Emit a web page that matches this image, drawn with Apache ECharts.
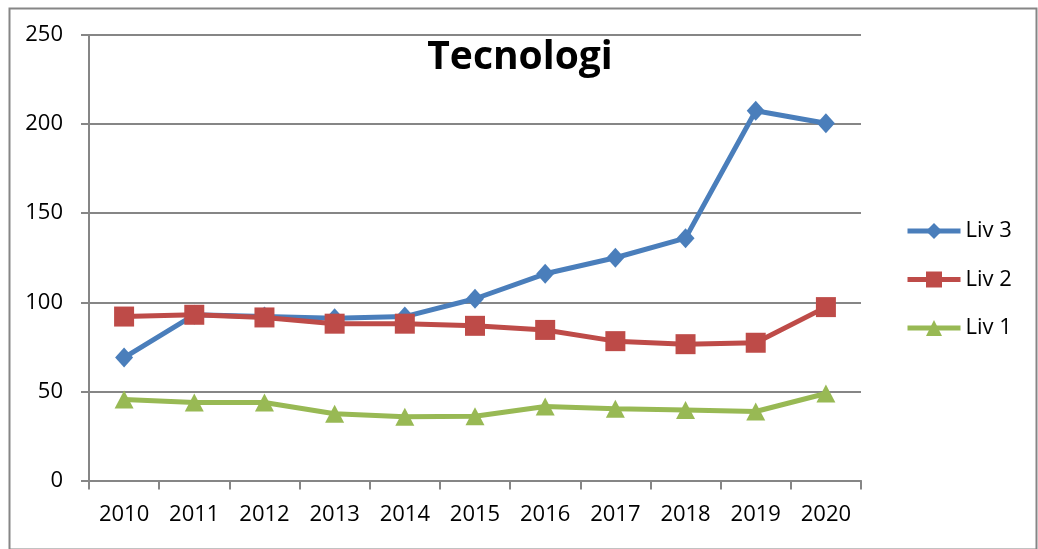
<!DOCTYPE html>
<html>
<head>
<meta charset="utf-8">
<script src="https://cdn.jsdelivr.net/npm/echarts@6/dist/echarts.min.js"></script>
<style>
html,body{margin:0;padding:0;background:#fff;}
#chart{width:1038px;height:549px;}
</style>
</head>
<body>
<div id="chart"></div>
<script>
const categories = ['2010','2011','2012','2013','2014','2015','2016','2017','2018','2019','2020'];
const liv3 = [69, 93, 92, 91, 92, 102, 116, 125, 136, 207.5, 200.5];
const liv2 = [92, 93, 91.5, 88, 88, 86.8, 84.5, 78.2, 76.5, 77.3, 97.3];
const liv1 = [45.5, 43.8, 43.8, 37.5, 35.8, 36, 41.5, 40.2, 39.5, 38.7, 48.8];
const seriesNames = ['Liv 3', 'Liv 2', 'Liv 1'];
const yTicks = {min: 0, max: 250, interval: 50};
const titleText = 'Tecnologi';

const FONT = 'Open Sans';
const AX = '#868686';
const colors = ['#4A7EBB', '#BE4B48', '#98B954'];
const symbols = ['diamond', 'rect', 'triangle'];
const symSizes = [[18, 20], 20, [19, 18]];
const values = [liv3, liv2, liv1];

const chart = echarts.init(document.getElementById('chart'), null, {renderer: 'canvas'});
chart.setOption({
  animation: false,
  backgroundColor: '#fff',
  title: {
    text: titleText, left: 515, top: 33, textAlign: 'center',
    textStyle: {fontFamily: FONT, fontSize: 39, fontWeight: 'bold', color: '#000'}
  },
  graphic: [{
    type: 'rect', left: 7, top: 6, z: -1,
    shape: {width: 1027, height: 541},
    style: {fill: 'none', stroke: AX, lineWidth: 2}
  }],
  legend: {
    orient: 'vertical', left: 900, top: 215,
    itemWidth: 53, itemHeight: 20, itemGap: 26.5,
    data: seriesNames,
    lineStyle: {width: 5},
    textStyle: {fontFamily: FONT, fontSize: 22, color: '#000'}
  },
  grid: {left: 89, right: 177, top: 35, bottom: 68.5, containLabel: false},
  xAxis: {
    type: 'category', data: categories, boundaryGap: true,
    axisLine: {lineStyle: {color: AX, width: 2}},
    axisTick: {show: true, length: 9, lineStyle: {color: AX, width: 2}},
    axisLabel: {fontFamily: FONT, fontSize: 22, color: '#000', margin: 23}
  },
  yAxis: {
    type: 'value', min: yTicks.min, max: yTicks.max, interval: yTicks.interval,
    axisLine: {show: true, lineStyle: {color: AX, width: 2}},
    axisTick: {show: true, length: 8, lineStyle: {color: AX, width: 2}},
    splitLine: {show: true, lineStyle: {color: AX, width: 2}},
    axisLabel: {fontFamily: FONT, fontSize: 22, color: '#000', margin: 26}
  },
  series: seriesNames.map((n, i) => ({
    name: n, type: 'line', data: values[i],
    symbol: symbols[i], symbolSize: symSizes[i],
    itemStyle: {color: colors[i]},
    lineStyle: {color: colors[i], width: 5},
    showAllSymbol: true
  }))
});
</script>
</body>
</html>
